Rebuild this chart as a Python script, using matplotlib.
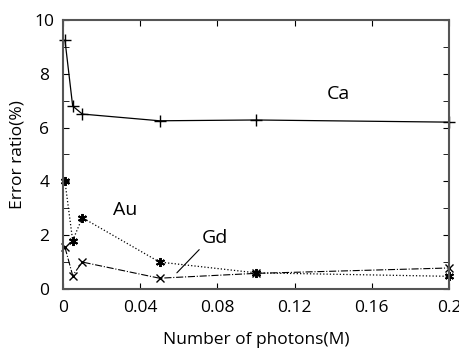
import matplotlib.pyplot as plt
import numpy as np

plt.rcParams['font.family'] = ['Open Sans', 'DejaVu Sans']

photons = [0.001, 0.005, 0.01, 0.05, 0.1, 0.2]
ca_err = [9.25, 6.8, 6.5, 6.25, 6.28, 6.2]
au_err = [4.0, 1.8, 2.65, 1.0, 0.6, 0.47]
gd_err = [1.55, 0.5, 1.0, 0.4, 0.58, 0.78]

xticks = [0, 0.04, 0.08, 0.12, 0.16, 0.2]
xtick_labels = ['0', '0.04', '0.08', '0.12', '0.16', '0.2']
yticks = [0, 2, 4, 6, 8, 10]

fig = plt.figure(figsize=(4.6, 3.55), dpi=100)
ax = fig.add_axes([0.137, 0.186, 0.839, 0.758])

ax.plot(photons, ca_err, color='black', lw=0.9, ls='-', marker='+', ms=8, mew=1.0, clip_on=False)
ax.plot(photons, au_err, color='black', lw=0.9, ls=':', marker=(6, 2, 0), ms=6.5, mew=1.4, clip_on=False)
ax.plot(photons, gd_err, color='black', lw=0.8, ls='-.', marker='x', ms=6, mew=1.0, clip_on=False)

ax.text(0.1425, 7.25, 'Ca', fontsize=14, ha='center', va='center')
ax.text(0.032, 2.93, 'Au', fontsize=14, ha='center', va='center')
ax.annotate('Gd', xy=(0.059, 0.6), xytext=(0.0788, 1.9), fontsize=14,
            ha='center', va='center',
            arrowprops=dict(arrowstyle='-', color='black', lw=0.8,
                            relpos=(0.0, 0.0), shrinkA=0, shrinkB=0))

ax.set_xlim(0, 0.2)
ax.set_ylim(0, 10)
ax.set_xticks(xticks)
ax.set_xticklabels(xtick_labels)
ax.set_yticks(yticks)
ax.set_yticks(np.arange(0, 11, 1), minor=True)
ax.tick_params(which='both', direction='in', top=True, right=True, labelsize=12.5)
ax.tick_params(which='major', length=4)
ax.tick_params(which='minor', length=4)
ax.tick_params(axis='x', pad=8)
ax.tick_params(axis='y', pad=13.5)
for lab in ax.get_yticklabels():
    lab.set_horizontalalignment('center')
for s in ax.spines.values():
    s.set_linewidth(1.5)
    s.set_color('#555555')

ax.set_xlabel('Number of photons(M)', fontsize=12.5)
ax.set_ylabel('Error ratio(%)', fontsize=12.5)
ax.xaxis.set_label_coords(0.5, -0.16)
ax.yaxis.set_label_coords(-0.098, 0.5)

fig.savefig('out.png', dpi=100)
